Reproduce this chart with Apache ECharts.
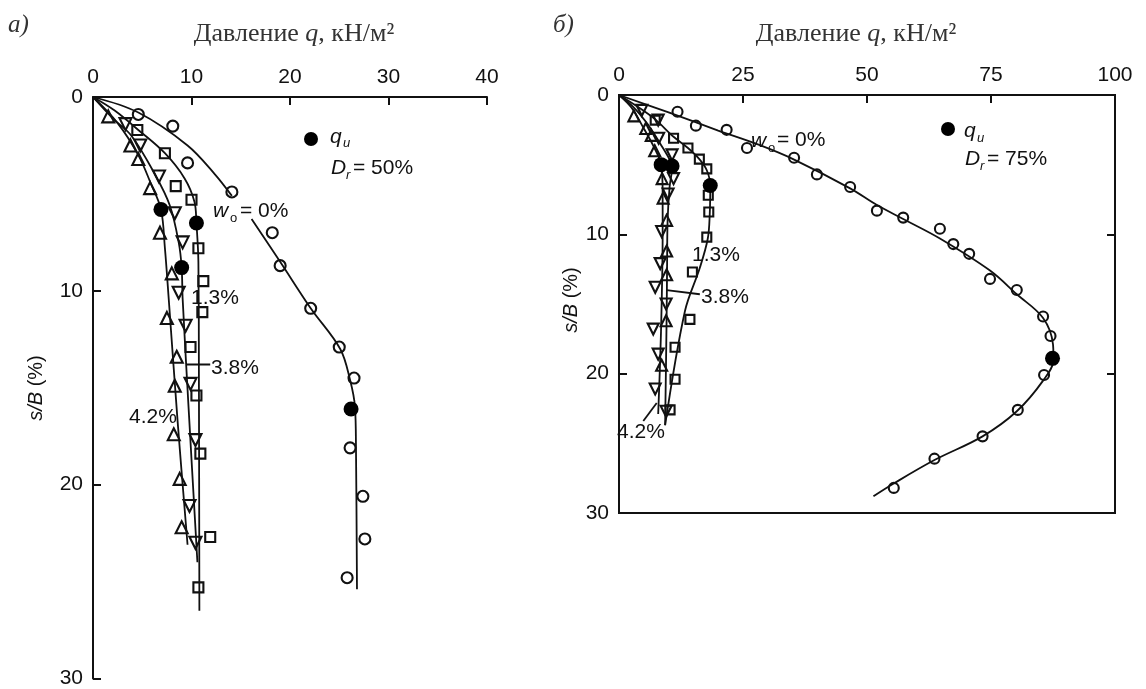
<!DOCTYPE html>
<html>
<head>
<meta charset="utf-8">
<script src="https://cdn.jsdelivr.net/npm/echarts@6/dist/echarts.min.js"></script>
<style>
    html, body { margin: 0; padding: 0; background: #fff; }
    #main { width: 1146px; height: 689px; }
</style>
</head>
<body>
<div id="main"></div>
<script>
// axes ticks
var xTicksA = [0, 10, 20, 30, 40];
var xTicksB = [0, 25, 50, 75, 100];
var yTicks = [0, 10, 20, 30];

// а) Dr = 50%   [q, s/B]
var aCirc0 = [[4.6,0.9],[8.1,1.5],[9.6,3.4],[14.1,4.9],[18.2,7.0],[19.0,8.7],[22.1,10.9],[25.0,12.9],[26.5,14.5],[26.1,18.1],[27.4,20.6],[27.6,22.8],[25.8,24.8]];
var aLine0top = [[0,0],[4.6,0.8],[9.6,2.5],[12.4,4.0],[14.1,5.1]];
var aLine0bot = [[16.1,6.3],[19.0,8.5],[22.1,10.9],[25.1,13.0],[26.1,14.6],[26.6,16.0],[26.7,18.2],[26.8,25.4]];
var aQu0 = [[26.2,16.1]];

var aSq13 = [[4.5,1.7],[7.3,2.9],[8.4,4.6],[10.0,5.3],[10.7,7.8],[11.2,9.5],[11.1,11.1],[9.9,12.9],[10.5,15.4],[10.9,18.4],[11.9,22.7],[10.7,25.3]];
var aLine13 = [[0,0],[2.2,0.7],[4.6,1.7],[7.3,2.9],[9.3,4.2],[10.3,5.4],[10.5,6.5],[10.7,8.5],[10.75,14],[10.8,26.5]];
var aQu13 = [[10.5,6.5]];

var aTri38 = [[3.3,1.4],[4.8,2.5],[6.7,4.1],[8.3,6.0],[9.1,7.5],[8.7,10.1],[9.4,11.8],[9.9,14.8],[10.4,17.7],[9.8,21.1],[10.4,23.0]];
var aLine38 = [[0,0],[2.0,1.1],[3.9,2.0],[6.3,4.0],[7.8,5.6],[8.7,7.5],[9.0,8.8],[9.1,10.4],[9.7,16],[10.6,24.0]];
var aQu38 = [[9.0,8.8]];
var aLead38 = [[9.5,13.8],[11.9,13.8]];

var aTri42 = [[1.55,1.0],[3.8,2.5],[4.6,3.2],[5.8,4.7],[6.8,7.0],[8.0,9.1],[7.5,11.4],[8.5,13.4],[8.3,14.9],[8.2,17.4],[8.8,19.7],[9.0,22.2]];
var aLine42 = [[0,0],[2.5,1.35],[4.6,3.0],[5.9,4.5],[6.9,5.8],[7.3,7.8],[7.7,10.5],[8.6,16.8],[9.6,23.1]];
var aQu42 = [[6.9,5.8]];

// б) Dr = 75%
var bCirc0 = [[11.8,1.2],[15.5,2.2],[21.7,2.5],[25.8,3.8],[35.3,4.5],[39.9,5.7],[46.6,6.6],[52.0,8.3],[57.3,8.8],[64.7,9.6],[67.4,10.7],[70.6,11.4],[74.8,13.2],[80.2,14.0],[85.5,15.9],[87.0,17.3],[85.7,20.1],[80.4,22.6],[73.3,24.5],[63.6,26.1],[55.4,28.2]];
var bLine0 = [[0,0],[10,1.25],[20,2.55],[28.4,3.6],[35.1,4.6],[46.6,6.7],[52,7.9],[57.3,8.9],[64.7,10.3],[74.8,12.6],[80.2,14.3],[85.5,16.0],[87.5,17.9],[87.6,19.0],[85.5,20.5],[80.2,22.7],[73.3,24.5],[63.6,26.2],[55.3,27.9],[51.3,28.8]];
var bQu0 = [[87.4,18.9]];

var bSq13 = [[7.3,1.8],[11.0,3.1],[13.9,3.8],[16.2,4.6],[17.7,5.3],[18.0,7.2],[18.1,8.4],[17.7,10.2],[14.8,12.7],[14.3,16.1],[11.3,18.1],[11.3,20.4],[10.3,22.6]];
var bLine13 = [[0,0],[4,0.9],[7.3,1.75],[11,3.0],[13.9,3.8],[16.2,4.6],[17.7,5.4],[18.4,6.5],[18.3,8.5],[17.9,10.3],[16.3,12.4],[13.3,15.5],[9.3,23.7]];
var bQu13 = [[18.4,6.5]];

var bTri38 = [[4.6,1.1],[7.9,1.8],[8.0,3.1],[10.7,4.3],[11.0,6.0],[9.9,7.1],[8.6,9.8],[8.3,12.1],[7.3,13.8],[9.5,15.0],[6.9,16.8],[7.9,18.6],[7.3,21.1],[9.5,22.7]];
var bLine38 = [[0,0],[3,0.9],[6,2.2],[8.5,3.6],[10.3,4.7],[10.7,5.2],[10.2,6.6],[9.8,9],[9.7,12],[9.6,16],[9.3,23.7]];
var bQu38 = [[10.7,5.1]];
var bLead38 = [[9.6,14.0],[16.3,14.3]];

var bTri42 = [[3.0,1.5],[5.4,2.4],[6.5,2.9],[7.2,4.0],[8.7,6.0],[8.9,7.4],[9.6,9.0],[9.6,11.2],[9.6,12.9],[9.5,16.2],[8.6,19.4]];
var bLine42 = [[0,0],[2.5,0.9],[5,2.4],[7,3.7],[8.5,5.0],[8.8,7],[8.8,10],[8.6,15],[8.3,19],[7.9,22.9]];
var bQu42 = [[8.5,5.0]];
var bLead42 = [[4.9,23.4],[7.6,22.1]];

var INK = '#111';
var SANS = '"Liberation Sans", Arial, sans-serif';
var SERIF = '"Liberation Serif", "DejaVu Serif", serif';

// gridIndex -> [xAxisIndex, yAxisIndex]
var G = [[0, 0], [1, 1]];

function xAx(g, ticks) {
    return {
        type: 'value', gridIndex: g, position: 'top',
        min: ticks[0], max: ticks[ticks.length - 1], interval: ticks[1] - ticks[0],
        axisLine: { show: true, onZero: false, lineStyle: { color: INK, width: 2 } },
        axisTick: { show: true, inside: true, length: 8, lineStyle: { color: INK, width: 2 } },
        axisLabel: { margin: 9, fontSize: 21, color: INK, fontFamily: SANS },
        splitLine: { show: false }
    };
}
function yAx(g, pos, labels) {
    return {
        type: 'value', gridIndex: g, position: pos, inverse: true,
        min: yTicks[0], max: yTicks[yTicks.length - 1], interval: yTicks[1] - yTicks[0],
        axisLine: { show: true, onZero: false, lineStyle: { color: INK, width: 2 } },
        axisTick: { show: true, inside: true, length: 8, lineStyle: { color: INK, width: 2 } },
        axisLabel: { show: labels, margin: 10, fontSize: 21, color: INK, fontFamily: SANS },
        splitLine: { show: false }
    };
}

function curve(d, g) {
    return { type: 'line', xAxisIndex: G[g][0], yAxisIndex: G[g][1], data: d, symbol: 'none',
        smooth: 0.35, silent: true, z: 2, lineStyle: { color: INK, width: 1.8 } };
}
function straight(d, g) {
    var s = curve(d, g); s.smooth = false; return s;
}
function pts(d, g, sym, size, rot) {
    return { type: 'scatter', xAxisIndex: G[g][0], yAxisIndex: G[g][1], data: d, symbol: sym,
        symbolSize: size, symbolRotate: rot || 0, silent: true, z: 3,
        itemStyle: { color: 'rgba(255,255,255,0)', borderColor: INK, borderWidth: 2.1, opacity: 1 } };
}
function qu(d, g) {
    return { type: 'scatter', xAxisIndex: G[g][0], yAxisIndex: G[g][1], data: d, symbol: 'circle',
        symbolSize: 15, silent: true, z: 4, itemStyle: { color: '#000', opacity: 1 } };
}

// text helper
function txt(x, y, s, o) {
    o = o || {};
    var size = o.size || 21;
    return { type: 'text', x: x, y: y, rotation: o.rot || 0, silent: true,
        style: { text: s, fill: o.fill || INK, fontSize: size, fontFamily: o.font || SANS,
            fontStyle: o.it ? 'italic' : 'normal', align: o.align || 'left', verticalAlign: 'middle',
            textAlign: o.align || 'left', textVerticalAlign: 'middle', rich: o.rich } };
}
var richT = { i: { fontStyle: 'italic', fontSize: 26, fontFamily: SERIF, fill: '#333' } };
var richY = { i: { fontStyle: 'italic', fontSize: 20, fontFamily: SANS, fill: INK } };

var graphics = [
    txt(8, 25, 'а)', { it: true, size: 25, font: SERIF, fill: '#333' }),
    txt(553, 25, 'б)', { it: true, size: 25, font: SERIF, fill: '#333' }),
    txt(294, 34, 'Давление {i|q}, кН/м²', { size: 26, font: SERIF, align: 'center', rich: richT, fill: '#333' }),
    txt(856, 34, 'Давление {i|q}, кН/м²', { size: 26, font: SERIF, align: 'center', rich: richT, fill: '#333' }),
    txt(36, 388, '{i|s/B} (%)', { size: 20, align: 'center', rot: Math.PI / 2, rich: richY }),
    txt(571, 300, '{i|s/B} (%)', { size: 20, align: 'center', rot: Math.PI / 2, rich: richY }),
    // legend а)
    { type: 'circle', silent: true, shape: { cx: 311, cy: 139, r: 7 }, style: { fill: '#000' } },
    txt(330, 137, 'q', { it: true }), txt(343, 143, 'u', { it: true, size: 13 }),
    txt(331, 168, 'D', { it: true }), txt(346, 175, 'r', { it: true, size: 13 }), txt(353, 168, '= 50%'),
    // curve labels а)
    txt(213, 211, 'w', { it: true }), txt(230, 218, 'o', { size: 13 }), txt(240, 211, '= 0%'),
    txt(191, 298, '1.3%'),
    txt(211, 368, '3.8%'),
    txt(129, 417, '4.2%'),
    // legend б)
    { type: 'circle', silent: true, shape: { cx: 948, cy: 129, r: 7 }, style: { fill: '#000' } },
    txt(964, 131, 'q', { it: true }), txt(977, 138, 'u', { it: true, size: 13 }),
    txt(965, 159, 'D', { it: true }), txt(980, 166, 'r', { it: true, size: 13 }), txt(987, 159, '= 75%'),
    // curve labels б)
    txt(751, 141, 'w', { it: true }), txt(768, 148, 'o', { size: 13 }), txt(777, 140, '= 0%'),
    txt(692, 255, '1.3%'),
    txt(701, 297, '3.8%'),
    txt(617, 432, '4.2%')
];

var chart = echarts.init(document.getElementById('main'));
chart.setOption({
    animation: false,
    backgroundColor: '#fff',
    grid: [
        { left: 93, top: 97, width: 394, height: 583, show: false },
        { left: 619, top: 95, width: 496, height: 418, show: true, borderColor: INK, borderWidth: 2 }
    ],
    xAxis: [xAx(0, xTicksA), xAx(1, xTicksB)],
    yAxis: [yAx(0, 'left', true), yAx(1, 'left', true), yAx(1, 'right', false)],
    series: [
        curve(aLine0top, 0), curve(aLine0bot, 0), curve(aLine13, 0), curve(aLine38, 0), curve(aLine42, 0),
        straight(aLead38, 0),
        pts(aCirc0, 0, 'circle', 11), pts(aSq13, 0, 'rect', 10), pts(aTri38, 0, 'triangle', 12, 180),
        pts(aTri42, 0, 'triangle', 12),
        qu(aQu0, 0), qu(aQu13, 0), qu(aQu38, 0), qu(aQu42, 0),

        curve(bLine0, 1), curve(bLine13, 1), curve(bLine38, 1), curve(bLine42, 1),
        straight(bLead38, 1), straight(bLead42, 1),
        pts(bCirc0, 1, 'circle', 10), pts(bSq13, 1, 'rect', 9), pts(bTri38, 1, 'triangle', 11, 180),
        pts(bTri42, 1, 'triangle', 11),
        qu(bQu0, 1), qu(bQu13, 1), qu(bQu38, 1), qu(bQu42, 1)
    ],
    graphic: graphics
});
</script>
</body>
</html>
